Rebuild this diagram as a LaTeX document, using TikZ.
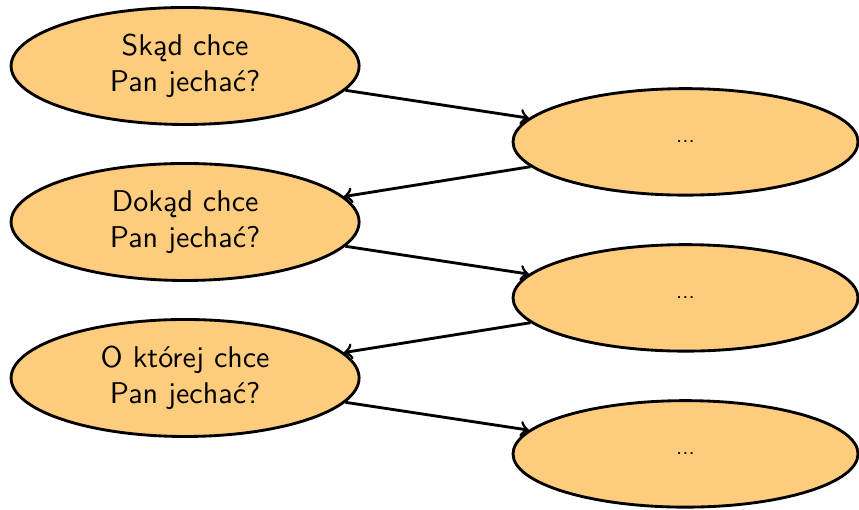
\documentclass[tikz,border=0pt]{standalone}
\usepackage{fontspec}
\usetikzlibrary{shapes.geometric}
\definecolor{bubble}{HTML}{FDCC7C}
\begin{document}
\begin{tikzpicture}[x=1pt,y=1pt,
    question/.style={ellipse, draw=black, line width=0.95pt, fill=bubble,
      minimum width=116pt, minimum height=39pt, inner sep=0pt,
      align=center, font=\sffamily},
    answer/.style={ellipse, draw=black, line width=0.95pt, fill=bubble,
      minimum width=115pt, minimum height=35.5pt, inner sep=0pt,
      font=\sffamily\scriptsize},
    link/.style={->, line width=0.95pt}]
  \useasboundingbox (0,0) rectangle (286.33,170);
  \node[question] (q1) at (61.7,148) {Skąd chce\\Pan jechać?};
  \node[question] (q2) at (61.7,96)  {Dokąd chce\\Pan jechać?};
  \node[question] (q3) at (61.7,44)  {O której chce\\Pan jechać?};
  \node[answer] (a1) at (228.5,122.7) {...};
  \node[answer] (a2) at (228.5,70.7)  {...};
  \node[answer] (a3) at (228.5,18.7)  {...};
  \draw[link] (q1) -- (a1);
  \draw[link] (a1) -- (q2);
  \draw[link] (q2) -- (a2);
  \draw[link] (a2) -- (q3);
  \draw[link] (q3) -- (a3);
\end{tikzpicture}
\end{document}
